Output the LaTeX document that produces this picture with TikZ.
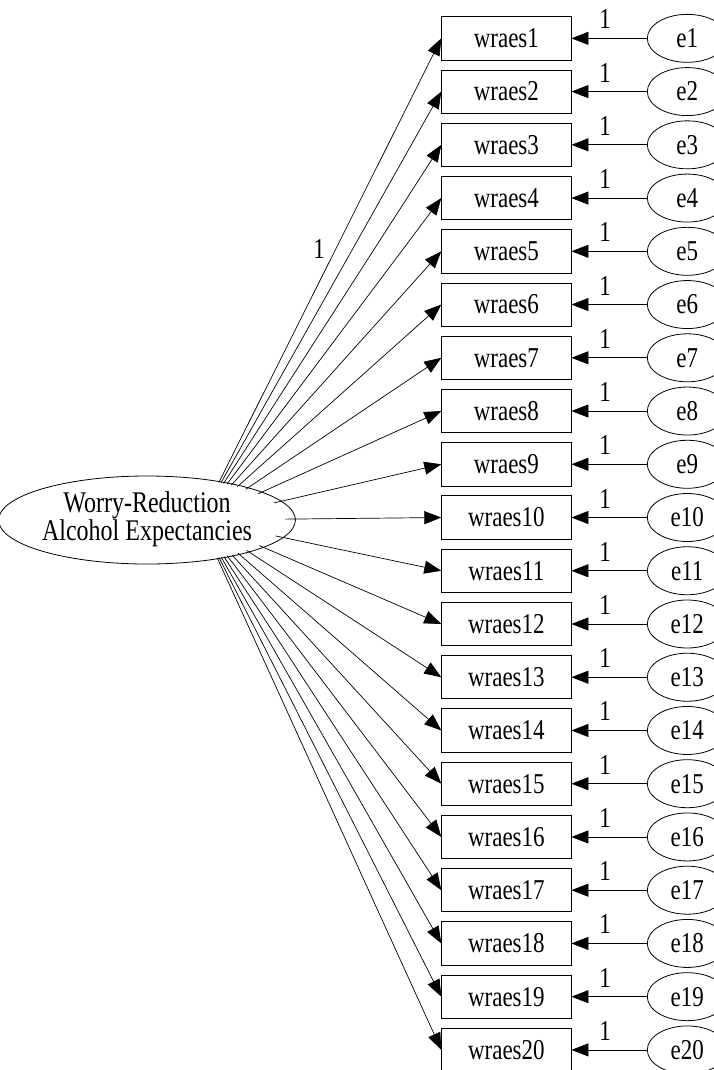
\documentclass[tikz,border=0pt]{standalone}
\usepackage{fontspec}
\setmainfont{Liberation Serif}
\usetikzlibrary{arrows.meta,shapes.geometric,intersections}
\newcommand{\vstretch}[1]{\scalebox{1}[1.25]{#1}}
\begin{document}
\begin{tikzpicture}[x=1pt,y=-1pt,
  obs/.style={draw, rectangle, minimum width=129.3pt, minimum height=43.3pt, inner sep=0pt, line width=0.8pt, font=\fontsize{23}{25}\selectfont},
  err/.style={draw, ellipse, minimum width=80pt, minimum height=48pt, inner sep=0pt, line width=0.8pt, font=\fontsize{23}{25}\selectfont},
  lat/.style={draw, ellipse, minimum width=276pt, minimum height=88pt, inner sep=0pt, line width=0.8pt, font=\fontsize{24}{20}\selectfont},
  arr/.style={line width=0.7pt, -{Triangle[length=17pt,width=13pt]}},
  one/.style={inner sep=0pt, font=\fontsize{23}{25}\selectfont}]
\useasboundingbox (0,0) rectangle (714,1070);
% latent variable
\node[lat] (lat) at (147,520) {\raisebox{3pt}{\vstretch{\begin{tabular}{@{}c@{}}Worry-Reduction\\Alcohol Expectancies\end{tabular}}}};
\path[name path=latp] (147,520) ellipse [x radius=138pt, y radius=44pt];
\coordinate (F) at (200,520);
% observed and error variables
\foreach \i in {1,...,20}{
  \pgfmathsetmacro\yy{38.35+53.24*(\i-1)}
  \node[obs] (b\i) at (506.35,\yy) {\vstretch{wraes\i}};
  \node[err] (e\i) at (687.3,\yy) {\vstretch{e\i}};
  \draw[arr] (e\i) -- (b\i);
  \node[one] (o\i) at (605,\yy-19) {\vstretch{1}};
  \path[name path=ray\i] (F) -- (b\i.west);
  \path[name intersections={of=latp and ray\i, by=s\i}];
  \draw[arr] (s\i) -- (b\i.west);
}
\node[one] (l1) at (319,249) {\vstretch{1}};
\end{tikzpicture}
\end{document}
